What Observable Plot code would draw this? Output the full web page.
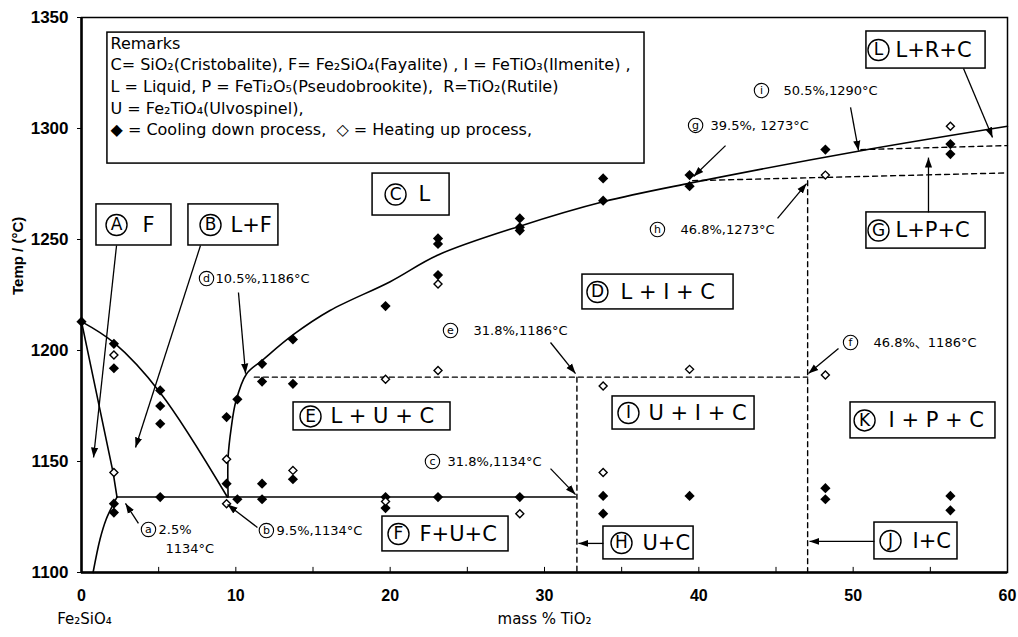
<!DOCTYPE html>
<html><head><meta charset="utf-8">
<script src="https://cdn.jsdelivr.net/npm/d3@7"></script>
<script src="https://cdn.jsdelivr.net/npm/@observablehq/plot@0.6"></script>
<style>body{margin:0;background:#fff}</style>
</head><body><div id="chart"></div>
<script>
// ---------- data ----------
const xTicks = [0, 10, 20, 30, 40, 50, 60];
const xMinorTicks = [5, 10, 15, 20, 25, 30, 35, 40, 45, 50, 55];
const yTicks = [1100, 1150, 1200, 1250, 1300, 1350];

// cooling down process (filled diamonds)
const coolX = [0, 2.1,2.1,2.1,2.1, 5.1,5.1,5.1,5.1, 9.4,9.4, 10.1,10.1, 11.7,11.7,11.7,11.7, 13.7,13.7,13.7, 19.7,19.7,19.7, 23.1,23.1,23.1,23.1, 28.4,28.4,28.4,28.4, 33.8,33.8,33.8,33.8, 39.4,39.4,39.4, 48.2,48.2,48.2, 56.3,56.3,56.3,56.3];
const coolT = [1213, 1203,1192,1131,1127, 1182,1175,1167,1134, 1170,1140, 1178,1133, 1194,1186,1140,1133, 1205,1185,1142, 1220,1134,1129, 1250.5,1248,1234,1134, 1259.5,1255.5,1254,1134, 1277.5,1267.5,1134.5,1126.5, 1279,1274,1134.5, 1290.5,1138,1133, 1293,1288.5,1134.5,1128];
// heating up process (open diamonds)
const heatX = [2.1,2.1, 9.4,9.4, 13.7, 19.7,19.7, 23.1,23.1, 28.4, 33.8,33.8, 39.4, 48.2,48.2, 56.3];
const heatT = [1198,1145, 1151,1131, 1146, 1187,1132, 1230,1191, 1126.5, 1184,1145, 1191.5, 1279,1189, 1301];

// phase boundaries (solid)
const fayLiqX = [0, 2.1, 5.1, 9.45];
const fayLiqT = [1213, 1203.5, 1181, 1134];
const fayAX = [0, 2.05, 2.3];
const fayAT = [1213, 1145, 1134];
const faySolX = [0.75, 1.2, 1.6, 2.0, 2.3];
const faySolT = [1100, 1115, 1124, 1130, 1134];
const eutX = [2.3, 32.0];
const eutT = [1134, 1134];
const mainX = [9.5, 9.5, 9.7, 10.0, 10.7, 11.7, 13.7, 16.1, 20, 23.1, 28.4, 33.8, 39.5, 50.5, 60];
const mainT = [1134, 1152, 1165, 1177, 1189.5, 1195.5, 1207, 1218, 1231, 1243, 1256, 1267, 1275.5, 1290, 1301];
// phase boundaries (dashed), grouped
const dashG = ["a","a", "b","b", "c","c", "d","d", "e","e"];
const dashX = [11.2, 47.05, 32.1, 32.1, 47.05, 47.05, 39.6, 60, 50.5, 60];
const dashT = [1188, 1188, 1188, 1100, 1276.5, 1100, 1276.5, 1280, 1290.5, 1292.3];

// phase-field labels (circled letter + phases)
const fieldLetter = ["A", "B", "C", "D", "E", "F", "G", "H", "I", "J", "K", "L"];
const fieldText = ["F", "L+F", "L", "L + I + C", "L + U + C", "F+U+C", "L+P+C", "U+C", "U + I + C", "I+C", "I + P + C", "L+R+C"];
const fieldX1 = [0.97, 6.93, 18.86, 32.46, 13.74, 19.5, 50.86, 33.82, 34.41, 51.38, 49.83, 50.86];
const fieldX2 = [5.83, 12.76, 23.85, 42.25, 23.91, 27.67, 58.58, 39.66, 43.61, 56.76, 59.22, 58.58];
const fieldT1 = [1247.3, 1247.3, 1260.8, 1218.5, 1164.0, 1109.5, 1245.9, 1105.9, 1164.4, 1105.9, 1160.4, 1327.0];
const fieldT2 = [1265.8, 1265.8, 1279.7, 1234.2, 1176.6, 1125.2, 1262.2, 1120.7, 1179.3, 1122.5, 1176.6, 1343.7];
const fieldCircleX = [2.27, 8.36, 20.35, 33.43, 14.84, 20.54, 51.64, 34.99, 35.44, 52.42, 50.74, 51.64];
const fieldTextX = [3.95, 9.65, 21.84, 34.93, 16.13, 21.90, 52.74, 36.35, 36.74, 53.85, 52.29, 52.74];

// point annotations (circled letter + value)
const noteLetter = ["a", "b", "c", "d", "e", "f", "g", "h", "i"];
const noteText = ["2.5%", "9.5%,1134°C", "31.8%,1134°C", "10.5%,1186°C", "31.8%,1186°C", "46.8%、1186°C", "39.5%, 1273°C", "46.8%,1273°C", "50.5%,1290°C"];
const noteCircleX = [4.34, 11.98, 22.74, 8.10, 23.91, 49.83, 39.79, 37.32, 44.06];
const noteTextX = [4.99, 12.64, 23.72, 8.68, 25.40, 51.32, 40.76, 38.81, 45.49];
const noteT = [1119.4, 1118.9, 1150, 1232.4, 1209, 1203.6, 1301.4, 1254.5, 1317.1];
const extraNote = ["1134°C"];
const extraNoteX = [5.44];
const extraNoteT = [1110.8];

// arrows (from -> to)
const arrX1 = [2.27, 7.71, 10.17, 3.69, 11.4, 30.39, 30.39, 33.82, 51.38, 49.05, 45.1, 41.73, 49.83, 57.15, 54.88];
const arrT1 = [1247.3, 1247.3, 1226.1, 1122.1, 1120.3, 1146.8, 1203.6, 1113.1, 1114, 1200.9, 1259.5, 1292.3, 1309.5, 1327, 1262.2];
const arrX2 = [0.78, 3.5, 10.63, 2.85, 9.46, 32.01, 32.01, 32.2, 47.17, 47.1, 46.98, 39.66, 50.35, 59.03, 54.88];
const arrT2 = [1151.8, 1156.3, 1189.6, 1131.1, 1130.6, 1135.1, 1189.6, 1113.1, 1114, 1189.6, 1275.2, 1278.4, 1290, 1296, 1286.9];

// remarks box
const remarkLines = [
  "Remarks",
  "C= SiO₂(Cristobalite), F= Fe₂SiO₄(Fayalite) , I = FeTiO₃(Ilmenite) ,",
  "L = Liquid, P = FeTi₂O₅(Pseudobrookite),  R=TiO₂(Rutile)",
  "U = Fe₂TiO₄(Ulvospinel),",
  "◆ = Cooling down process,  ◇ = Heating up process,"
];
const remarkT = [1338.3, 1328.8, 1318.9, 1309, 1299.5];

// ---------- build ----------
const zip = (xs, ts) => xs.map((x, i) => ({x, t: ts[i]}));
const cool = zip(coolX, coolT);
const heat = zip(heatX, heatT);
const dashed = dashX.map((x, i) => ({x, t: dashT[i], g: dashG[i]}));
const fields = fieldText.map((s, i) => ({
  s, letter: fieldLetter[i], x1: fieldX1[i], x2: fieldX2[i], t1: fieldT1[i], t2: fieldT2[i],
  cx: fieldCircleX[i], tx: fieldTextX[i], tm: (fieldT1[i] + fieldT2[i]) / 2
}));
const notes = noteText.map((s, i) => ({s, letter: noteLetter[i], cx: noteCircleX[i], tx: noteTextX[i], t: noteT[i]}));
const extras = extraNote.map((s, i) => ({s, x: extraNoteX[i], t: extraNoteT[i]}));
const arrows = arrX1.map((x1, i) => ({x1, t1: arrT1[i], x2: arrX2[i], t2: arrT2[i]}));
const remarks = remarkLines.map((s, i) => ({s, t: remarkT[i]}));

const FONT = "Liberation Sans, Noto Sans CJK JP, sans-serif";
const WIDE = "DejaVu Sans, Noto Sans CJK JP, sans-serif";

function triMarker(color, context) {
  const doc = (context && context.document) || document;
  const ns = "http://www.w3.org/2000/svg";
  const m = doc.createElementNS(ns, "marker");
  m.setAttribute("viewBox", "-10 -5 10 10");
  m.setAttribute("markerWidth", "10");
  m.setAttribute("markerHeight", "10");
  m.setAttribute("markerUnits", "userSpaceOnUse");
  m.setAttribute("orient", "auto");
  const p = doc.createElementNS(ns, "path");
  p.setAttribute("d", "M-10,-3.6L0,0L-10,3.6Z");
  p.setAttribute("fill", color);
  p.setAttribute("stroke", "none");
  m.appendChild(p);
  return m;
}

function build(marker) {
  return Plot.plot({
    width: 1018, height: 637,
    marginLeft: 81, marginRight: 11, marginTop: 17, marginBottom: 65,
    x: {domain: [0, 60]},
    y: {domain: [1100, 1350]},
    style: {fontFamily: FONT, background: "white", color: "black"},
    marks: [
      Plot.frame({stroke: "black", strokeWidth: 1.5}),
      Plot.ruleX([0], {stroke: "black", strokeWidth: 2.5}),
      Plot.ruleY([1100], {stroke: "black", strokeWidth: 2.5}),
      Plot.ruleX(xMinorTicks, {x: d => d, y1: 1100, y2: 1102.3, stroke: "black", strokeWidth: 1}),
      Plot.axisY({ticks: yTicks, tickFormat: d => String(d), tickSize: 4, tickPadding: 9, fontSize: 17, fontWeight: "bold", fontFamily: FONT, label: null}),
      Plot.axisX({ticks: xTicks, tickFormat: d => String(d), tickSize: 0, tickPadding: 17, fontSize: 16, fontWeight: "bold", fontFamily: FONT, label: null}),
      Plot.text(["Temp / (°C)"], {frameAnchor: "left", dx: -63, rotate: -90, fontSize: 15, fontWeight: "bold", fontFamily: FONT}),
      Plot.text(["mass % TiO₂"], {frameAnchor: "bottom", dy: 51, fontSize: 15, fontFamily: WIDE}),
      Plot.text(["Fe₂SiO₄"], {x: () => 0, frameAnchor: "bottom", dy: 51, dx: 3, fontSize: 15, fontFamily: WIDE}),
      // boundaries
      Plot.line(zip(fayLiqX, fayLiqT), {x: "x", y: "t", curve: "catmull-rom", stroke: "black", strokeWidth: 1.6}),
      Plot.line(zip(fayAX, fayAT), {x: "x", y: "t", stroke: "black", strokeWidth: 1.6}),
      Plot.line(zip(faySolX, faySolT), {x: "x", y: "t", curve: "catmull-rom", stroke: "black", strokeWidth: 1.6}),
      Plot.line(zip(eutX, eutT), {x: "x", y: "t", stroke: "black", strokeWidth: 1.6}),
      Plot.line(zip(mainX, mainT), {x: "x", y: "t", curve: "catmull-rom", stroke: "black", strokeWidth: 1.6}),
      Plot.line(dashed, {x: "x", y: "t", z: "g", stroke: "black", strokeWidth: 1.4, strokeDasharray: "5,4"}),
      // remarks box
      Plot.rect([{}], {x1: () => 1.68, x2: () => 36.48, y1: () => 1284.2, y2: () => 1343.2, fill: "white", stroke: "black", strokeWidth: 1.5}),
      Plot.text(remarks, {x: () => 1.88, y: "t", text: "s", textAnchor: "start", fontSize: 16, fontFamily: WIDE}),
      // data points
      Plot.dot(cool, {x: "x", y: "t", symbol: "diamond2", r: 4.6, fill: "black", stroke: "none"}),
      Plot.dot(heat, {x: "x", y: "t", symbol: "diamond2", r: 3.6, fill: "white", stroke: "black", strokeWidth: 1.4}),
      // field labels
      Plot.rect(fields, {x1: "x1", x2: "x2", y1: "t1", y2: "t2", fill: "white", stroke: "black", strokeWidth: 1.5}),
      Plot.dot(fields, {x: "cx", y: "tm", r: 10.5, fill: "none", stroke: "black", strokeWidth: 1.4}),
      Plot.text(fields, {x: "cx", y: "tm", text: "letter", fontSize: 17, fontFamily: WIDE}),
      Plot.text(fields, {x: "tx", y: "tm", text: "s", textAnchor: "start", fontSize: 21, fontFamily: WIDE}),
      // notes
      Plot.dot(notes, {x: "cx", y: "t", r: 7.2, fill: "none", stroke: "black", strokeWidth: 1.1}),
      Plot.text(notes, {x: "cx", y: "t", text: "letter", fontSize: 11, fontFamily: WIDE}),
      Plot.text(notes, {x: "tx", y: "t", text: "s", textAnchor: "start", fontSize: 13, fontFamily: WIDE}),
      Plot.text(extras, {x: "x", y: "t", text: "s", textAnchor: "start", fontSize: 13, fontFamily: WIDE}),
      // arrows
      Plot.link(arrows, {x1: "x1", y1: "t1", x2: "x2", y2: "t2", stroke: "black", strokeWidth: 1.3, markerEnd: marker})
    ]
  });
}

let chart;
try { chart = build(triMarker); } catch (e) { chart = build("arrow"); }
document.getElementById("chart").appendChild(chart);
</script>
</body></html>
